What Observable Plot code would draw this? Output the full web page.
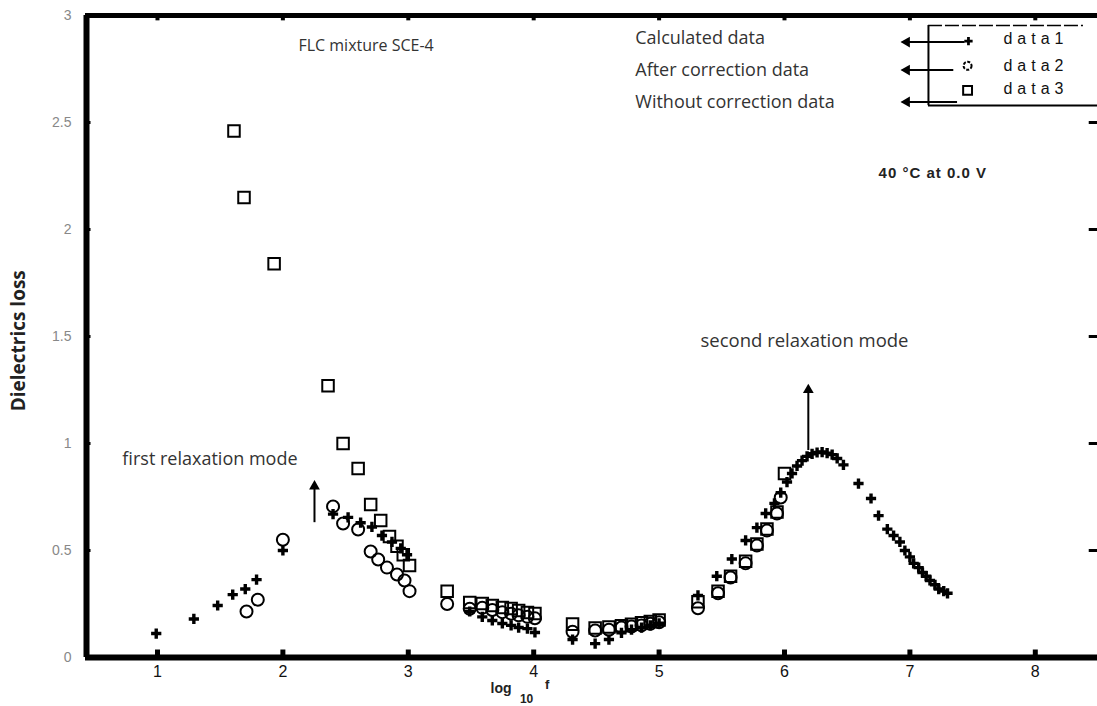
<!DOCTYPE html>
<html><head><meta charset="utf-8">
<script src="https://cdn.jsdelivr.net/npm/d3@7"></script>
<script src="https://cdn.jsdelivr.net/npm/@observablehq/plot@0.6"></script>
<style>body{margin:0;background:#fff;overflow:hidden}</style>
</head><body><div id="chart"></div>
<script>
// ---- data ----
const xTicks = [1, 2, 3, 4, 5, 6, 7, 8];
const yTicks = [0, 0.5, 1, 1.5, 2, 2.5, 3];

// data1: Calculated data (crosses)
const calcX = [0.99,1.29,1.48,1.60,1.70,1.79,2.00,
  2.40,2.52,2.62,2.71,2.79,2.87,2.94,2.99,
  3.49,3.59,3.67,3.75,3.82,3.88,3.95,4.01,
  4.31,4.49,4.60,4.70,4.78,4.86,4.93,5.00,
  5.31,5.46,5.58,5.69,5.78,5.85,5.92,5.97,6.02,6.06,6.10,6.14,6.18,6.22,6.26,6.30,6.34,6.38,6.42,6.47,
  6.59,6.69,6.75,6.82,6.87,6.92,6.96,7.00,7.03,7.07,7.10,7.13,7.16,7.20,7.23,7.27,7.30];
const calcY = [0.112,0.18,0.243,0.294,0.32,0.364,0.50,
  0.67,0.655,0.63,0.61,0.57,0.54,0.51,0.48,
  0.215,0.19,0.173,0.159,0.15,0.14,0.135,0.117,
  0.084,0.065,0.084,0.115,0.13,0.14,0.15,0.16,
  0.29,0.38,0.46,0.547,0.607,0.673,0.72,0.77,0.82,0.86,0.895,0.92,0.94,0.952,0.958,0.96,0.955,0.948,0.93,0.90,
  0.813,0.743,0.663,0.60,0.57,0.54,0.50,0.47,0.44,0.42,0.397,0.38,0.36,0.34,0.32,0.31,0.30];

// data2: After correction data (circles)
const corrX = [1.71,1.80,2.00,
  2.40,2.48,2.60,2.70,2.76,2.83,2.91,2.97,3.01,
  3.31,3.49,3.59,3.67,3.75,3.82,3.88,3.95,4.01,
  4.31,4.49,4.60,4.70,4.78,4.86,4.93,5.00,
  5.31,5.47,5.57,5.69,5.78,5.86,5.94,5.97];
const corrY = [0.215,0.27,0.55,
  0.706,0.626,0.598,0.495,0.458,0.42,0.388,0.36,0.31,
  0.25,0.228,0.232,0.222,0.212,0.205,0.197,0.19,0.183,
  0.12,0.126,0.13,0.14,0.145,0.15,0.158,0.165,
  0.23,0.30,0.374,0.44,0.523,0.593,0.673,0.748];

// data3: Without correction data (squares)
const rawX = [1.61,1.69,1.93,2.36,2.48,2.60,2.70,2.78,2.85,2.91,2.96,3.01,
  3.31,3.49,3.59,3.67,3.75,3.82,3.88,3.95,4.01,
  4.31,4.49,4.60,4.70,4.78,4.86,4.93,5.00,
  5.31,5.47,5.57,5.69,5.78,5.86,5.94,6.00];
const rawY = [2.46,2.15,1.84,1.27,1.00,0.883,0.715,0.64,0.565,0.52,0.48,0.43,
  0.31,0.257,0.252,0.243,0.234,0.229,0.22,0.21,0.206,
  0.156,0.138,0.142,0.148,0.155,0.162,0.168,0.175,
  0.26,0.31,0.38,0.45,0.53,0.60,0.68,0.86];

const legendNames = ["data1", "data2", "data3"];
const seriesNotes = ["Calculated data", "After correction data", "Without correction data"];

// ---- build tables ----
const calc = calcX.map((x, i) => ({x, y: calcY[i]}));
const corr = corrX.map((x, i) => ({x, y: corrY[i]}));
const raw = rawX.map((x, i) => ({x, y: rawY[i]}));

const xMin = 0.426, xMax = 8.496;
const font = "Open Sans, Noto Sans, sans-serif";
const sans = "Liberation Sans, Arial, sans-serif";

const legendRows = legendNames.map((name, i) => ({
  name, note: seriesNotes[i],
  lineY: [2.876, 2.745, 2.596][i],
  lineEnd: [7.44, 7.35, 7.38][i],
  markY: [2.88, 2.765, 2.65][i],
  textY: [2.893, 2.766, 2.659][i],
  noteY: [2.893, 2.743, 2.593][i]
}));

const relaxArrows = [
  {x: 2.252, y1: 0.63, y2: 0.79, tip: 0.80},
  {x: 6.19, y1: 0.967, y2: 1.24, tip: 1.25}
];

const notes = [
  {x: 2.124, y: 2.86, text: "FLC mixture SCE-4", size: 16},
  {x: 5.33, y: 1.48, text: "second relaxation mode", size: 18.5},
  {x: 0.72, y: 0.925, text: "first relaxation mode", size: 18}
];

const chart = Plot.plot({
  width: 1097, height: 706,
  marginLeft: 85, marginRight: 0, marginTop: 15, marginBottom: 49,
  x: {domain: [xMin, xMax]},
  y: {domain: [0, 3]},
  style: {background: "white", fontFamily: sans},
  marks: [
    // axis labels
    Plot.axisX({ticks: xTicks, tickSize: 0, tickPadding: 8, fontSize: 16, fill: "#111", label: null, tickFormat: d3.format("d")}),
    Plot.axisY({ticks: yTicks, tickSize: 0, tickPadding: 14, fontSize: 14, fill: "#888", label: null, tickFormat: d => String(d)}),
    // frame
    Plot.ruleY([0], {strokeWidth: 6, stroke: "#000"}),
    Plot.ruleY([3], {strokeWidth: 5, stroke: "#000"}),
    Plot.ruleX([xMin], {strokeWidth: 6, stroke: "#000", dx: 1}),
    // tick marks (inward)
    Plot.ruleX(xTicks, {y1: 0, y2: 0.035, strokeWidth: 5, stroke: "#000"}),
    Plot.ruleX(xTicks, {y1: 3, y2: 2.975, strokeWidth: 4, stroke: "#000"}),
    Plot.ruleY(yTicks.slice(1, -1), {x1: xMin, x2: 0.47, strokeWidth: 3, stroke: "#000"}),
    Plot.ruleY(yTicks.slice(1, -1), {x1: 8.43, x2: xMax, strokeWidth: 3, stroke: "#000"}),
    // data
    Plot.dot(raw, {x: "x", y: "y", symbol: "square", r: 6.5, stroke: "#000", strokeWidth: 2, fill: "none"}),
    Plot.dot(corr, {x: "x", y: "y", symbol: "circle", r: 6, stroke: "#000", strokeWidth: 2, fill: "none"}),
    Plot.dot(calc, {x: "x", y: "y", symbol: "cross", r: 4.3, fill: "#000", stroke: "none"}),
    // relaxation arrows
    Plot.ruleX(relaxArrows, {x: "x", y1: "y1", y2: "y2", strokeWidth: 2, stroke: "#000"}),
    Plot.dot(relaxArrows, {x: "x", y: "tip", symbol: "triangle", r: 4, fill: "#000"}),
    // annotations
    Plot.text(notes, {x: "x", y: "y", text: "text", fontSize: d => d.size, textAnchor: "start", fill: "#333", fontFamily: font}),
    Plot.text(legendRows, {x: 4.81, y: "noteY", text: "note", fontSize: 18, textAnchor: "start", fill: "#333", fontFamily: font}),
    Plot.text(["40 °C at 0.0 V"], {x: 6.75, y: 2.262, text: d => d, fontSize: 15, fontWeight: "bold", textAnchor: "start", fill: "#222", fontFamily: sans}),
    // legend box
    Plot.ruleX([7.148], {y1: 2.579, y2: 2.953, strokeWidth: 2, stroke: "#000"}),
    Plot.ruleY([2.953], {x1: 7.148, x2: 8.384, strokeWidth: 1.5, stroke: "#000", strokeDasharray: "14,3"}),
    Plot.ruleY([2.579], {x1: 7.148, x2: xMax, strokeWidth: 2, stroke: "#000"}),
    Plot.ruleY(legendRows, {y: "lineY", x1: 6.94, x2: "lineEnd", strokeWidth: 2, stroke: "#000"}),
    Plot.dot(legendRows, {x: 6.975, y: "lineY", symbol: "triangle", r: 4, rotate: -90, fill: "#000"}),
    Plot.dot(legendRows.slice(0, 1), {x: 7.467, y: "markY", symbol: "cross", r: 3.5, fill: "#000"}),
    Plot.dot(legendRows.slice(1, 2), {x: 7.46, y: "markY", symbol: "circle", r: 4, stroke: "#000", strokeWidth: 2, fill: "none", strokeDasharray: "3,1.5"}),
    Plot.dot(legendRows.slice(2, 3), {x: 7.46, y: "markY", symbol: "square", r: 5, stroke: "#000", strokeWidth: 2, fill: "none"}),
    Plot.text(legendRows, {x: 7.746, y: "textY", text: "name", fontSize: 16, textAnchor: "start", fill: "#111", fontFamily: sans}),
    // axis titles
    Plot.text(["log"], {x: 3.656, y: 0, dy: 31, text: d => d, fontSize: 14, fontWeight: "bold", textAnchor: "start", fill: "#222"}),
    Plot.text(["10"], {x: 3.89, y: 0, dy: 42, text: d => d, fontSize: 12, fontWeight: "bold", textAnchor: "start", fill: "#222"}),
    Plot.text(["f"], {x: 4.09, y: 0, dy: 27, text: d => d, fontSize: 13, fontWeight: "bold", textAnchor: "start", fill: "#222"}),
    Plot.text(["Dielectrics loss"], {x: -0.108, y: 1.48, text: d => d, rotate: -90, fontSize: 19, fontWeight: "bold", fill: "#222", fontFamily: font})
  ]
});
d3.select(chart).selectAll("text")
  .filter(function() { return legendNames.includes(this.textContent); })
  .attr("letter-spacing", "5");
d3.select(chart).selectAll("text")
  .filter(function() { return this.textContent === "40 °C at 0.0 V"; })
  .attr("letter-spacing", "1");
document.getElementById("chart").appendChild(chart);
</script>
</body></html>
